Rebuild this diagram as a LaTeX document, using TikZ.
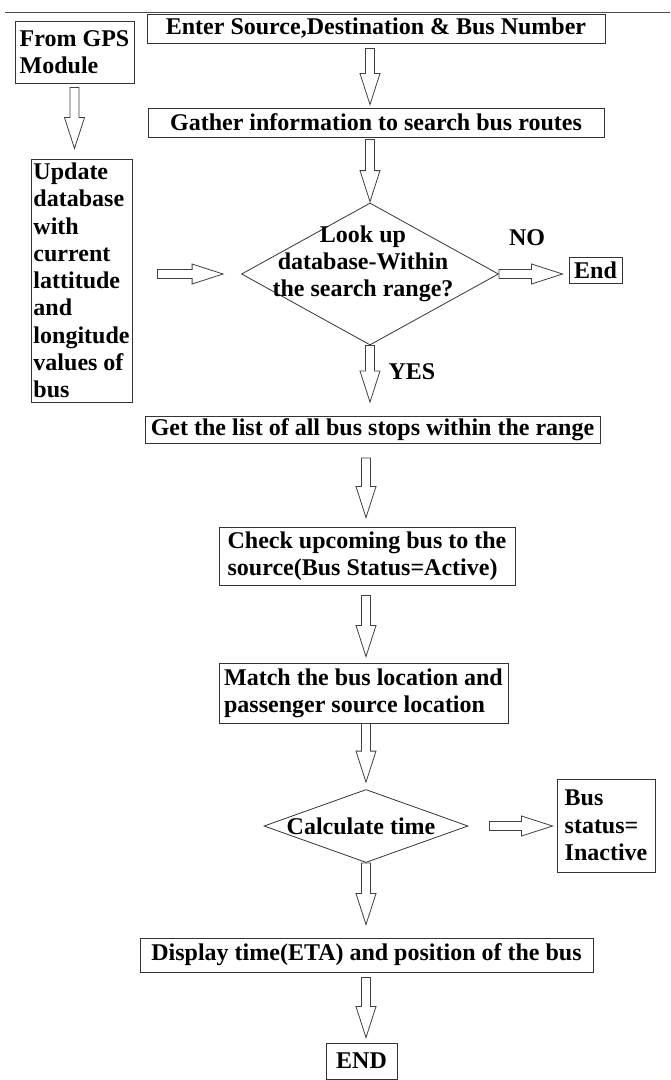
\documentclass[tikz,border=0pt]{standalone}
\usepackage{fontspec}
\setmainfont{Liberation Serif}
\usetikzlibrary{calc,shapes.geometric}

\begin{document}
\begin{tikzpicture}[x=1pt, y=-1pt,
    box/.style={draw=black!80, line width=0.9pt, inner sep=0pt,
      font=\bfseries\fontsize{24}{27.3}\selectfont},
    txt/.style={inner sep=0pt, font=\bfseries\fontsize{24}{27.3}\selectfont},
    dec/.style={diamond, draw=black!80, line width=0.8pt, inner sep=0pt},
    barrow/.style 2 args={draw=black!75, line width=0.8pt, fill=white, to path={
      let \p1=($(\tikztostart)!#1!(\tikztotarget)$),
          \p2=($(\tikztotarget)!#2!(\tikztostart)$),
          \n1={atan2((\y2)-(\y1),(\x2)-(\x1))} in
      ($(\p1)+(\n1+90:4.5pt)$) -- ($(\p2)+(\n1+180:31pt)+(\n1+90:4.5pt)$)
      -- ($(\p2)+(\n1+180:31pt)+(\n1+90:10pt)$) -- (\p2)
      -- ($(\p2)+(\n1+180:31pt)+(\n1-90:10pt)$) -- ($(\p2)+(\n1+180:31pt)+(\n1-90:4.5pt)$)
      -- ($(\p1)+(\n1-90:4.5pt)$) -- cycle}}]
    \useasboundingbox (0, 0) rectangle (670, 1080);
    \draw [black!70, line width=0.8pt] (5, 12) -- (670, 12);
    % GPS side
    \node [box, align=left, minimum width=119, minimum height=62] (gps) at (74.5, 52) {From GPS\\Module};
    \node [box, align=left, minimum width=101, minimum height=243] (upd) at (81.5, 280.5)
      {Update\\database\\with\\current\\lattitude\\and\\longitude\\values of\\bus};
    % search
    \node [box, minimum width=458, minimum height=29] (enter)  at (376, 28.5) {Enter Source,Destination \& Bus Number};
    \node [box, minimum width=456, minimum height=29] (gather) at (376, 122.5) {Gather information to search bus routes};
    \node [dec, minimum width=257, minimum height=142] (lookup) at (370, 274) {};
    \node [txt, align=center] (lookuptext) at (363, 264) {Look up\\database-Within\\the search range?};
    \node [txt] (no)  at (527, 238) {NO};
    \node [box, minimum width=53, minimum height=26] (stop) at (595.5, 270) {End};
    \node [txt] (yes) at (412, 372) {YES};
    % bus match
    \node [box, minimum width=455, minimum height=27] (list) at (372.5, 430) {Get the list of all bus stops within the range};
    \node [box, align=left, minimum width=296, minimum height=58] (check) at (367, 556)
      {Check upcoming bus to the\\source(Bus Status=Active)};
    \node [box, align=left, minimum width=289, minimum height=60] (match) at (363.5, 693)
      {Match the bus location and\\passenger source location};
    % time
    \node [dec, minimum width=204, minimum height=73] (timedec) at (366, 826) {};
    \node [txt] (timetext) at (361, 826) {Calculate time};
    \node [box, align=left, minimum width=98, minimum height=93] (inactive) at (606, 825.5) {Bus\\status=\\Inactive};
    \node [box, minimum width=453, minimum height=34] (eta) at (366.5, 955) {Display time(ETA) and position of the bus};
    \node [box, minimum width=71, minimum height=36] (fin) at (361.5, 1061) {END};
    % arrows
    \draw [barrow={4pt}{10pt}]  (gps.south) to (upd.north -| gps.south);
    \draw [barrow={25pt}{18pt}] (upd.east |- lookup) to (lookup.west);
    \draw [barrow={5pt}{3pt}]   (enter.south -| lookup) to (gather.north -| lookup);
    \draw [barrow={2pt}{1pt}]   (gather.south -| lookup) to (lookup.north);
    \draw [barrow={0pt}{6pt}]   (lookup.east) to (stop.west |- lookup.east);
    \draw [barrow={0pt}{14pt}]  (lookup.south) to (list.north -| lookup);
    \draw [barrow={14pt}{9pt}]  (list.south -| timedec) to (check.north -| timedec);
    \draw [barrow={10pt}{6pt}]  (check.south -| timedec) to (match.north -| timedec);
    \draw [barrow={0pt}{7pt}]   (match.south -| timedec) to (timedec.north);
    \draw [barrow={21pt}{4pt}]  (timedec.east) to (inactive.west |- timedec.east);
    \draw [barrow={0pt}{13pt}]  (timedec.south) to (eta.north -| timedec);
    \draw [barrow={5pt}{5pt}]   (eta.south -| timedec) to (fin.north -| timedec);
  \end{tikzpicture}
\end{document}
